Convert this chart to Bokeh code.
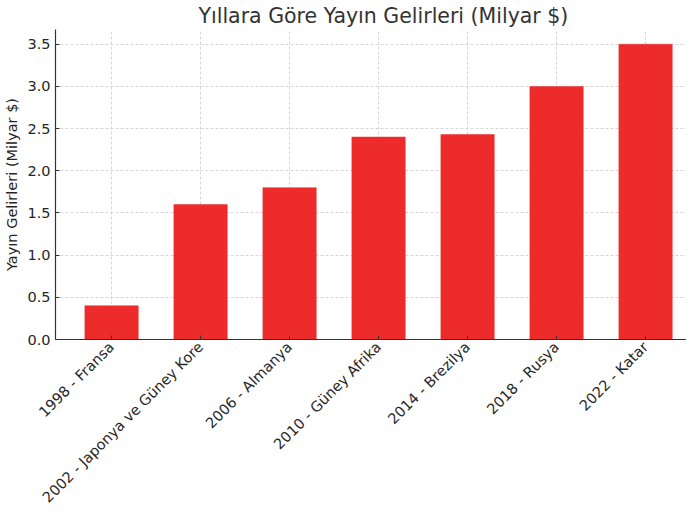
from bokeh.plotting import figure
from bokeh.models import Range1d, FixedTicker, Title
from bokeh.embed import file_html
from bokeh.resources import INLINE
import math

categories = ["1998 - Fransa", "2002 - Japonya ve Güney Kore", "2006 - Almanya",
              "2010 - Güney Afrika", "2014 - Brezilya", "2018 - Rusya", "2022 - Katar"]
revenues = [0.4, 1.6, 1.8, 2.4, 2.43, 3.0, 3.5]
y_ticks = [0.0, 0.5, 1.0, 1.5, 2.0, 2.5, 3.0, 3.5]

xs = list(range(len(categories)))

p = figure(width=686, height=514, output_backend="svg", toolbar_location=None,
           x_range=Range1d(-0.63, 6.46), y_range=Range1d(0, 3.675),
           min_border_left=55, min_border_right=0, min_border_top=27, min_border_bottom=171)
p.title = Title(text="Yıllara Göre Yayın Gelirleri (Milyar $)", align="left",
                text_font="DejaVu Sans", text_font_size="20.5px", text_font_style="normal",
                text_color="#333333", offset=143, standoff=3)
p.outline_line_color = None
p.background_fill_color = "white"

p.vbar(x=xs, top=revenues, width=0.6, fill_color="#ee2b2b", line_color="#ee2b2b", line_width=0.5)

p.xaxis.ticker = FixedTicker(ticks=xs)
p.xaxis.major_label_overrides = {i: c for i, c in enumerate(categories)}
p.xaxis.major_label_orientation = math.pi / 4
p.yaxis.ticker = FixedTicker(ticks=y_ticks)
p.yaxis.major_label_overrides = {t: f"{t:.1f}" for t in y_ticks}
p.yaxis.axis_label = "Yayın Gelirleri (Milyar $)"

for ax in (p.xaxis, p.yaxis):
    ax.major_label_text_font = "DejaVu Sans"
    ax.major_label_text_font_size = "14.5px"
    ax.major_label_text_color = "#262626"
    ax.axis_line_color = "#333333"
    ax.axis_line_width = 1.2
    ax.major_tick_in = 4
    ax.major_tick_out = 0
    ax.major_tick_line_color = "#333333"
    ax.minor_tick_line_color = None
    ax.major_label_standoff = 5
p.yaxis.axis_label_text_font = "DejaVu Sans"
p.yaxis.axis_label_text_font_size = "14.5px"
p.yaxis.axis_label_text_font_style = "normal"
p.yaxis.axis_label_text_color = "#262626"
p.yaxis.axis_label_standoff = 4

p.grid.grid_line_color = "#cccccc"
p.grid.grid_line_dash = "3 2"
p.grid.grid_line_width = 0.8

open("out.html", "w").write(file_html(p, INLINE))
